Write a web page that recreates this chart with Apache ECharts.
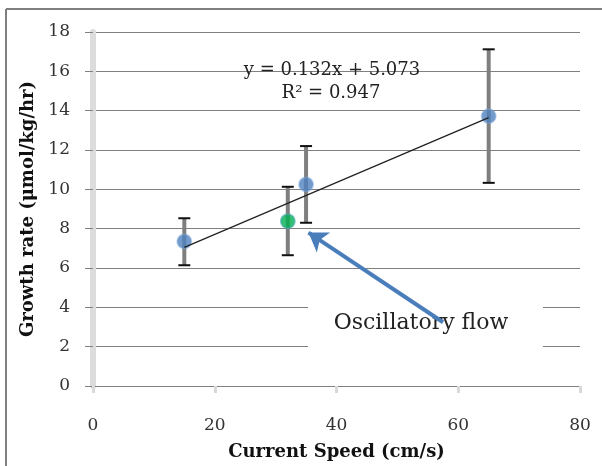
<!DOCTYPE html>
<html>
<head>
<meta charset="utf-8">
<script src="https://cdn.jsdelivr.net/npm/echarts@6/dist/echarts.min.js"></script>
<style>
  html, body { margin: 0; padding: 0; background: #fff; }
  #chart { width: 602px; height: 466px; }
</style>
</head>
<body>
<div id="chart"></div>
<script>
// steady flow points (blue)
const speeds = [15, 35, 65];
const growth = [7.35, 10.25, 13.72];
const errLow = [6.14, 8.3, 10.33];
const errHigh = [8.53, 12.2, 17.12];

// oscillatory flow point (green)
const oscSpeed = [32];
const oscGrowth = [8.38];
const oscLow = [6.65];
const oscHigh = [10.13];

// linear trendline endpoints, y = 0.132x + 5.073
const trendX = [15, 65];
const trendY = [7.05, 13.65];

// annotation arrow: tail -> head
const arrowX = [57.5, 35.4];
const arrowY = [3.24, 7.8];

const xTicks = { min: 0, max: 80, step: 20 };
const yTicks = { min: 0, max: 18, step: 2 };

const serif = 'DejaVu Serif';
const chart = echarts.init(document.getElementById('chart'));

const errBarItem = (params, api) => {
  const x = api.value(0);
  const top = api.coord([x, api.value(2)]);
  const bot = api.coord([x, api.value(1)]);
  const cap = 6;
  return {
    type: 'group',
    children: [
      { type: 'line', shape: { x1: top[0], y1: top[1], x2: bot[0], y2: bot[1] },
        style: { stroke: '#7f7f7f', lineWidth: 4 } },
      { type: 'line', shape: { x1: top[0] - cap, y1: top[1], x2: top[0] + cap, y2: top[1] },
        style: { stroke: '#111', lineWidth: 2 } },
      { type: 'line', shape: { x1: bot[0] - cap, y1: bot[1], x2: bot[0] + cap, y2: bot[1] },
        style: { stroke: '#111', lineWidth: 2 } }
    ]
  };
};

const option = {
  backgroundColor: '#fff',
  animation: false,
  grid: { left: 93, right: 22, top: 32, bottom: 80 },
  xAxis: {
    type: 'value',
    min: xTicks.min, max: xTicks.max, interval: xTicks.step,
    name: 'Current Speed (cm/s)',
    nameLocation: 'middle',
    nameGap: 57,
    nameTextStyle: { fontFamily: serif, fontWeight: 'bold', fontSize: 18, color: '#111' },
    axisLine: { show: true, onZero: false, lineStyle: { color: '#808080', width: 1 } },
    axisTick: { show: true, length: 7, lineStyle: { color: '#d9d9d9', width: 3 } },
    axisLabel: { margin: 31, fontFamily: serif, fontSize: 17, color: '#333' },
    splitLine: { show: false }
  },
  yAxis: {
    type: 'value',
    min: yTicks.min, max: yTicks.max, interval: yTicks.step,
    name: 'Growth rate (μmol/kg/hr)',
    nameLocation: 'middle',
    nameGap: 56,
    nameTextStyle: { fontFamily: serif, fontWeight: 'bold', fontSize: 18, color: '#111' },
    axisLine: { show: true, onZero: false, lineStyle: { color: '#dcdcdc', width: 6 } },
    axisTick: { show: true, length: 8, lineStyle: { color: '#808080', width: 1 } },
    axisLabel: { margin: 23, fontFamily: serif, fontSize: 17, color: '#333' },
    splitLine: { show: true, lineStyle: { color: '#808080', width: 1 } }
  },
  graphic: [
    // chart frame (right and bottom edges fall outside the picture)
    { type: 'line', z: 0,
      shape: { x1: 6, y1: 9, x2: 602, y2: 9 },
      style: { stroke: '#7f7f7f', lineWidth: 2 } },
    { type: 'line', z: 0,
      shape: { x1: 6, y1: 9, x2: 6, y2: 466 },
      style: { stroke: '#7f7f7f', lineWidth: 2 } },
    { type: 'text', x: 332, y: 70, z: 20,
      style: { text: 'y = 0.132x + 5.073', fontFamily: serif, fontSize: 18, fill: '#222',
        align: 'center', verticalAlign: 'middle' } },
    { type: 'text', x: 331, y: 93, z: 20,
      style: { text: 'R² = 0.947', fontFamily: serif, fontSize: 18, fill: '#222',
        align: 'center', verticalAlign: 'middle' } },
    { type: 'rect', z: 5,
      shape: { x: 308, y: 290, width: 235, height: 62 },
      style: { fill: '#fff' } },
    { type: 'text', x: 421, y: 323, z: 6,
      style: { text: 'Oscillatory flow', fontFamily: serif, fontSize: 22, fill: '#222',
        align: 'center', verticalAlign: 'middle' } }
  ],
  series: [
    {
      name: 'err',
      type: 'custom',
      z: 2,
      renderItem: errBarItem,
      encode: { x: 0, y: 2 },
      data: speeds.map((s, i) => [s, errLow[i], errHigh[i]])
        .concat(oscSpeed.map((s, i) => [s, oscLow[i], oscHigh[i]]))
    },
    {
      name: 'steady',
      type: 'scatter',
      z: 3,
      symbol: 'circle',
      symbolSize: 14,
      itemStyle: { color: '#4f81bd', borderColor: 'rgba(120,160,215,0.6)', borderWidth: 2 },
      data: speeds.map((s, i) => [s, growth[i]])
    },
    {
      name: 'oscillatory',
      type: 'scatter',
      z: 3,
      symbol: 'circle',
      symbolSize: 14,
      itemStyle: { color: '#00b050', borderColor: 'rgba(60,170,170,0.7)', borderWidth: 2 },
      data: oscSpeed.map((s, i) => [s, oscGrowth[i]])
    },
    {
      name: 'trend',
      type: 'line',
      z: 4,
      symbol: 'none',
      lineStyle: { color: '#222', width: 1.3 },
      data: trendX.map((x, i) => [x, trendY[i]])
    },
    {
      name: 'arrow',
      type: 'lines',
      coordinateSystem: 'cartesian2d',
      z: 10,
      symbol: ['none', 'arrow'],
      symbolSize: 18,
      lineStyle: { color: '#4a7ebb', width: 4, opacity: 1 },
      data: [{ coords: arrowX.map((x, i) => [x, arrowY[i]]) }]
    }
  ]
};

chart.setOption(option);
</script>
</body>
</html>
